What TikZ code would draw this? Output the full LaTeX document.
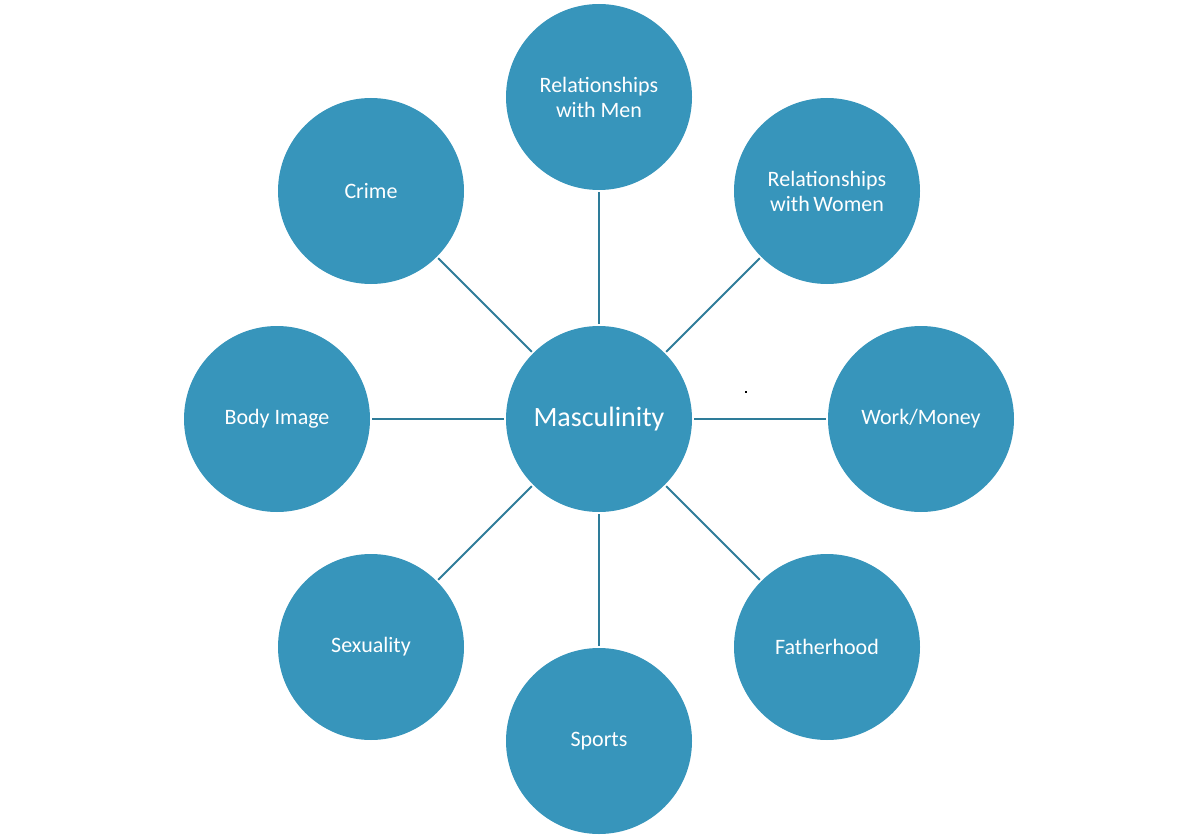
\documentclass[tikz,border=0pt]{standalone}
\usepackage{fontspec}
\setmainfont{Carlito}
\definecolor{bub}{HTML}{3795BB}
\definecolor{lnk}{HTML}{2E7C99}
\begin{document}
\begin{tikzpicture}[x=1pt,y=-1pt,
  bubble/.style={circle,fill=bub,draw=none,minimum size=186pt,inner sep=0pt,outer sep=0pt,
    text=white,align=center,font=\fontsize{22}{25}\selectfont},
  hub/.style={bubble,font=\fontsize{28}{32}\selectfont},
  link/.style={draw=lnk,line width=2pt,shorten <=2pt,shorten >=2pt}]
\useasboundingbox (0,0) rectangle (1200,840);
\node[hub] (c) at (599,419) {Masculinity};
\node[bubble] (n) at (599,97) {Relationships\\with Men};
\node[bubble] (ne) at (827,191) {Relationships\\with\,Women};
\node[bubble] (e) at (921,419) {Work/Money};
\node[bubble] (se) at (827,647) {Fatherhood};
\node[bubble] (s) at (599,741) {Sports};
\node[bubble] (sw) at (371,647) {Sexuality};
\node[bubble] (w) at (277,419) {Body Image};
\node[bubble] (nw) at (371,191) {Crime};
\foreach \t in {n,ne,e,se,s,sw,w,nw}{\draw[link] (c) -- (\t);}
\fill[black] (744.5,391) rectangle (746.5,393);
\end{tikzpicture}
\end{document}
